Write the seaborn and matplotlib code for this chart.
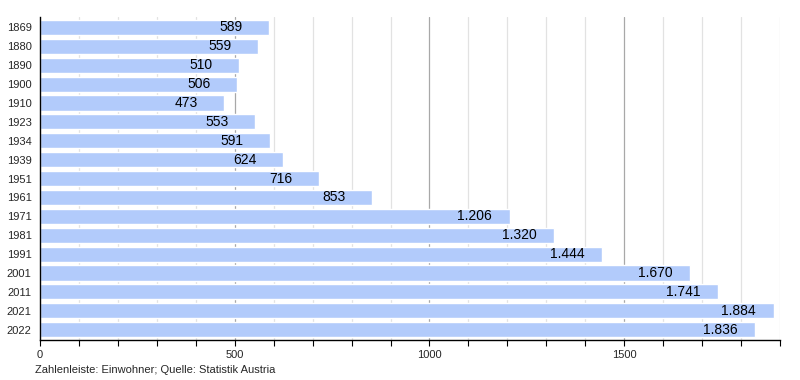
import matplotlib
matplotlib.use("Agg")
import matplotlib.pyplot as plt
from matplotlib.ticker import MultipleLocator
import seaborn as sns
import pandas as pd

years = ["1869", "1880", "1890", "1900", "1910", "1923", "1934", "1939", "1951",
         "1961", "1971", "1981", "1991", "2001", "2011", "2021", "2022"]
einwohner = [589, 559, 510, 506, 473, 553, 591, 624, 716,
             853, 1206, 1320, 1444, 1670, 1741, 1884, 1836]

df = pd.DataFrame({"Jahr": years, "Einwohner": einwohner})

sns.set_style("white")
plt.rcParams['font.family'] = ['Liberation Sans', 'DejaVu Sans']

fig = plt.figure(figsize=(8, 3.8), dpi=100)
ax = fig.add_axes([40 / 800, 1 - 340 / 380, 740 / 800, 323 / 380])

# gitterlinien
for x in range(100, 1901, 100):
    ax.axvline(x, color="#a8a8a8" if x % 500 == 0 else "#e2e2e2", lw=0.9, zorder=0)

sns.barplot(data=df, x="Einwohner", y="Jahr", orient="h", color="#b2cbfb",
            saturation=1, width=0.8, ax=ax, zorder=2)

# werte in den balken
for i, v in enumerate(einwohner):
    txt = f"{v:,}".replace(",", ".")
    ax.annotate(txt, (v, i), xytext=(-38 if v < 1000 else -35, 0),
                textcoords="offset pixels",
                ha="center", va="center", fontsize=10, color="black", zorder=3)

ax.set_xlim(0, 1900)
ax.set_ylim(16.55, -0.55)
ax.set_xlabel("")
ax.set_ylabel("")
ax.xaxis.set_major_locator(MultipleLocator(500))
ax.xaxis.set_minor_locator(MultipleLocator(100))
ax.tick_params(axis="x", which="both", direction="out", length=4, width=0.8,
               color="black", bottom=True, labelsize=8, pad=3)
ax.tick_params(axis="y", which="both", length=0, labelsize=8, pad=6)

for s in ["top", "right"]:
    ax.spines[s].set_visible(False)
ax.spines["left"].set_color("black")
ax.spines["bottom"].set_color("black")
ax.spines["left"].set_linewidth(1)
ax.spines["bottom"].set_linewidth(1)

fig.text(35 / 800, 1 - 370 / 380, "Zahlenleiste: Einwohner; Quelle: Statistik Austria",
         fontsize=8, ha="left", va="center")

fig.savefig("out.png", dpi=100)
